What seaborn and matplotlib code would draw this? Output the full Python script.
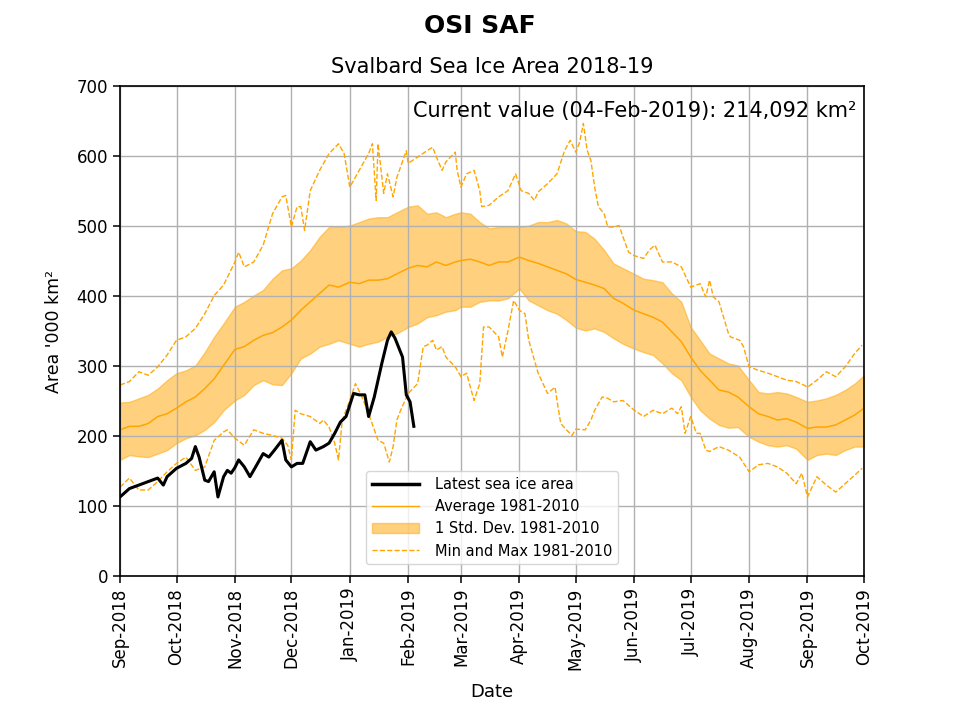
import matplotlib
matplotlib.use("Agg")
import matplotlib.pyplot as plt
import matplotlib.dates as mdates
from matplotlib.lines import Line2D
import pandas as pd
import seaborn as sns

# 1981-2010 climatology, every ~5 days ('000 km2)
clim_dates = [
    "2018-09-01", "2018-09-06", "2018-09-11", "2018-09-16", "2018-09-21", "2018-09-26",
    "2018-10-01", "2018-10-06", "2018-10-11", "2018-10-16", "2018-10-21", "2018-10-26",
    "2018-11-01", "2018-11-06", "2018-11-11", "2018-11-16", "2018-11-21", "2018-11-26",
    "2018-12-01", "2018-12-06", "2018-12-11", "2018-12-16", "2018-12-21", "2018-12-26",
    "2019-01-01", "2019-01-06", "2019-01-11", "2019-01-16", "2019-01-21", "2019-01-26",
    "2019-02-01", "2019-02-06", "2019-02-11", "2019-02-16", "2019-02-21", "2019-02-26",
    "2019-03-01", "2019-03-06", "2019-03-11", "2019-03-16", "2019-03-21", "2019-03-26",
    "2019-04-01", "2019-04-06", "2019-04-11", "2019-04-16", "2019-04-21", "2019-04-26",
    "2019-05-01", "2019-05-06", "2019-05-11", "2019-05-16", "2019-05-21", "2019-05-26",
    "2019-06-01", "2019-06-06", "2019-06-11", "2019-06-16", "2019-06-21", "2019-06-26",
    "2019-07-01", "2019-07-06", "2019-07-11", "2019-07-16", "2019-07-21", "2019-07-26",
    "2019-08-01", "2019-08-06", "2019-08-11", "2019-08-16", "2019-08-21", "2019-08-26",
    "2019-09-01", "2019-09-06", "2019-09-11", "2019-09-16", "2019-09-21", "2019-09-26",
    "2019-10-01",
]
avg_vals = [
    209, 214, 214, 218, 228, 232,
    240, 249, 256, 268, 282, 301,
    324, 328, 337, 344, 348, 356,
    366, 380, 392, 404, 416, 413,
    420, 418, 423, 423, 425, 432,
    440, 444, 442, 449, 444, 449,
    451, 453, 449, 444, 449, 449,
    456, 451, 447, 442, 437, 432,
    424, 420, 416, 411, 397, 390,
    380, 375, 370, 363, 349, 335,
    313, 294, 280, 266, 263, 256,
    242, 232, 228, 223, 225, 220,
    211, 213, 213, 216, 223, 230,
    240,
]
std_hi = [
    248, 249, 254, 259, 268, 280,
    290, 294, 301, 320, 342, 361,
    385, 392, 401, 409, 425, 437,
    440, 451, 466, 485, 499, 499,
    501, 506, 511, 513, 513, 520,
    528, 530, 518, 520, 513, 518,
    520, 518, 506, 497, 499, 499,
    499, 501, 506, 506, 509, 504,
    493, 492, 482, 466, 447, 440,
    432, 425, 423, 420, 404, 392,
    356, 337, 318, 311, 304, 301,
    280, 263, 261, 263, 261, 256,
    249, 251, 254, 259, 266, 275,
    287,
]
std_lo = [
    166, 173, 171, 170, 175, 180,
    190, 197, 201, 209, 220, 237,
    251, 259, 273, 280, 274, 273,
    290, 311, 318, 328, 332, 337,
    332, 328, 332, 335, 342, 347,
    356, 361, 370, 373, 378, 380,
    385, 385, 392, 394, 394, 397,
    411, 394, 387, 380, 375, 366,
    355, 351, 354, 349, 340, 332,
    325, 320, 316, 304, 290, 280,
    256, 237, 225, 216, 212, 213,
    199, 192, 187, 185, 187, 182,
    166, 173, 175, 173, 180, 185,
    185,
]

max_dates = [
    "2018-09-01", "2018-09-06", "2018-09-11", "2018-09-16", "2018-09-21", "2018-09-26",
    "2018-10-01", "2018-10-06", "2018-10-11", "2018-10-16", "2018-10-21", "2018-10-26",
    "2018-11-01", "2018-11-03", "2018-11-06", "2018-11-11", "2018-11-16", "2018-11-21",
    "2018-11-26", "2018-11-28", "2018-12-01", "2018-12-04", "2018-12-06", "2018-12-08",
    "2018-12-11", "2018-12-16", "2018-12-21", "2018-12-26", "2018-12-29", "2019-01-01",
    "2019-01-06", "2019-01-11", "2019-01-13", "2019-01-15", "2019-01-16", "2019-01-19",
    "2019-01-21", "2019-01-24", "2019-01-26", "2019-01-28", "2019-01-31", "2019-02-01",
    "2019-02-06", "2019-02-11", "2019-02-14", "2019-02-16", "2019-02-19", "2019-02-21",
    "2019-02-26", "2019-02-27", "2019-03-01", "2019-03-04", "2019-03-08", "2019-03-11",
    "2019-03-12", "2019-03-16", "2019-03-21", "2019-03-26", "2019-03-30", "2019-04-02",
    "2019-04-06", "2019-04-09", "2019-04-11", "2019-04-16", "2019-04-21", "2019-04-25",
    "2019-04-28", "2019-05-01", "2019-05-03", "2019-05-05", "2019-05-07", "2019-05-09",
    "2019-05-11", "2019-05-13", "2019-05-16", "2019-05-18", "2019-05-21", "2019-05-24",
    "2019-05-26", "2019-05-29", "2019-06-01", "2019-06-06", "2019-06-09", "2019-06-12",
    "2019-06-16", "2019-06-21", "2019-06-26", "2019-07-01", "2019-07-06", "2019-07-09",
    "2019-07-11", "2019-07-13", "2019-07-16", "2019-07-21", "2019-07-22", "2019-07-27",
    "2019-07-29", "2019-08-01", "2019-08-06", "2019-08-11", "2019-08-16", "2019-08-21",
    "2019-08-26", "2019-08-30", "2019-09-01", "2019-09-06", "2019-09-11", "2019-09-16",
    "2019-09-21", "2019-09-26", "2019-09-30",
]
max_vals = [
    273, 278, 292, 287, 299, 316,
    337, 342, 354, 375, 401, 416,
    449, 463, 442, 449, 473, 518,
    542, 544, 499, 528, 528, 494,
    551, 580, 604, 618, 604, 556,
    580, 604, 618, 537, 618, 547,
    575, 542, 570, 585, 608, 590,
    599, 608, 613, 599, 580, 592,
    606, 580, 556, 575, 580, 551,
    528, 530, 542, 551, 575, 551,
    547, 537, 549, 561, 575, 608,
    623, 606, 620, 647, 609, 594,
    556, 528, 518, 499, 499, 501,
    485, 463, 458, 454, 466, 473,
    449, 449, 442, 413, 418, 399,
    423, 399, 392, 347, 342, 337,
    328, 299, 294, 290, 285, 280,
    278, 273, 270, 280, 292, 285,
    299, 318, 330,
]

min_dates = [
    "2018-09-01", "2018-09-06", "2018-09-11", "2018-09-16", "2018-09-21", "2018-09-26",
    "2018-10-01", "2018-10-06", "2018-10-11", "2018-10-16", "2018-10-21", "2018-10-26",
    "2018-10-28", "2018-11-01", "2018-11-06", "2018-11-11", "2018-11-16", "2018-11-21",
    "2018-11-26", "2018-11-29", "2018-12-01", "2018-12-03", "2018-12-06", "2018-12-11",
    "2018-12-16", "2018-12-18", "2018-12-21", "2018-12-24", "2018-12-26", "2018-12-28",
    "2019-01-01", "2019-01-04", "2019-01-07", "2019-01-11", "2019-01-16", "2019-01-19",
    "2019-01-22", "2019-01-24", "2019-01-26", "2019-01-28", "2019-02-01", "2019-02-06",
    "2019-02-09", "2019-02-11", "2019-02-14", "2019-02-16", "2019-02-19", "2019-02-21",
    "2019-02-26", "2019-03-01", "2019-03-04", "2019-03-06", "2019-03-08", "2019-03-11",
    "2019-03-13", "2019-03-16", "2019-03-21", "2019-03-23", "2019-03-26", "2019-03-29",
    "2019-04-01", "2019-04-04", "2019-04-06", "2019-04-11", "2019-04-16", "2019-04-20",
    "2019-04-21", "2019-04-23", "2019-04-26", "2019-04-29", "2019-05-01", "2019-05-06",
    "2019-05-09", "2019-05-11", "2019-05-15", "2019-05-18", "2019-05-21", "2019-05-26",
    "2019-05-29", "2019-06-01", "2019-06-06", "2019-06-11", "2019-06-16", "2019-06-21",
    "2019-06-24", "2019-06-26", "2019-06-28", "2019-07-01", "2019-07-04", "2019-07-06",
    "2019-07-09", "2019-07-11", "2019-07-16", "2019-07-21", "2019-07-27", "2019-08-01",
    "2019-08-06", "2019-08-11", "2019-08-16", "2019-08-21", "2019-08-26", "2019-08-29",
    "2019-09-01", "2019-09-06", "2019-09-11", "2019-09-16", "2019-09-21", "2019-09-26",
    "2019-09-30",
]
min_vals = [
    127, 140, 123, 123, 135, 149,
    161, 170, 151, 156, 194, 206,
    209, 197, 187, 209, 204, 201,
    197, 187, 166, 237, 232, 228,
    218, 223, 213, 190, 166, 223,
    251, 275, 259, 232, 194, 190,
    163, 185, 223, 237, 261, 275,
    328, 330, 337, 323, 328, 313,
    299, 285, 290, 270, 251, 275,
    356, 356, 342, 313, 351, 394,
    380, 375, 337, 290, 261, 270,
    251, 218, 209, 201, 210, 209,
    223, 237, 256, 254, 249, 251,
    244, 237, 228, 237, 232, 240,
    232, 242, 204, 228, 204, 204,
    180, 178, 185, 180, 170, 149,
    159, 161, 156, 147, 132, 147,
    113, 142, 130, 120, 132, 144,
    154,
]

# latest season up to 04-Feb-2019
latest_dates = [
    "2018-09-01", "2018-09-06", "2018-09-11", "2018-09-16", "2018-09-21", "2018-09-24",
    "2018-09-26", "2018-10-01", "2018-10-06", "2018-10-09", "2018-10-11", "2018-10-13",
    "2018-10-16", "2018-10-18", "2018-10-21", "2018-10-23", "2018-10-26", "2018-10-28",
    "2018-10-30", "2018-11-01", "2018-11-03", "2018-11-06", "2018-11-09", "2018-11-12",
    "2018-11-16", "2018-11-19", "2018-11-22", "2018-11-26", "2018-11-28", "2018-12-01",
    "2018-12-04", "2018-12-07", "2018-12-11", "2018-12-14", "2018-12-18", "2018-12-21",
    "2018-12-24", "2018-12-27", "2018-12-30", "2019-01-03", "2019-01-06", "2019-01-09",
    "2019-01-11", "2019-01-14", "2019-01-18", "2019-01-21", "2019-01-23", "2019-01-25",
    "2019-01-29", "2019-01-31", "2019-02-02", "2019-02-04",
]
latest_vals = [
    113, 125, 130, 135, 140, 130,
    142, 154, 161, 168, 185, 170,
    137, 135, 149, 113, 142, 151,
    147, 155, 166, 156, 142, 156,
    175, 170, 180, 194, 166, 156,
    161, 161, 192, 180, 185, 190,
    204, 220, 228, 261, 259, 259,
    228, 256, 304, 337, 349, 340,
    313, 259, 249, 214,
]

current_label = "Current value (04-Feb-2019): 214,092 km\u00b2"

clim = pd.DataFrame({"date": pd.to_datetime(clim_dates), "avg": avg_vals,
                     "lo": std_lo, "hi": std_hi})
mx = pd.DataFrame({"date": pd.to_datetime(max_dates), "area": max_vals})
mn = pd.DataFrame({"date": pd.to_datetime(min_dates), "area": min_vals})
latest = pd.DataFrame({"date": pd.to_datetime(latest_dates), "area": latest_vals})

fig, ax = plt.subplots(figsize=(9.6, 7.2), dpi=100)
fig.subplots_adjust(left=0.125, right=0.9, top=0.88, bottom=0.2)

band = ax.fill_between(clim["date"], clim["lo"], clim["hi"], color="orange", alpha=0.5,
                       label="1 Std. Dev. 1981-2010")
sns.lineplot(data=clim, x="date", y="avg", color="orange", linewidth=1.1, ax=ax)
sns.lineplot(data=mx, x="date", y="area", color="orange", linewidth=1, linestyle="--", ax=ax)
sns.lineplot(data=mn, x="date", y="area", color="orange", linewidth=1, linestyle="--", ax=ax)
sns.lineplot(data=latest, x="date", y="area", color="black", linewidth=2.2, ax=ax, zorder=5)

ax.set_xlim(pd.Timestamp("2018-09-01"), pd.Timestamp("2019-10-01"))
ax.set_ylim(0, 700)
ax.set_yticks(range(0, 701, 100))
ax.xaxis.set_major_locator(mdates.MonthLocator())
ax.xaxis.set_major_formatter(mdates.DateFormatter("%b-%Y"))
plt.setp(ax.get_xticklabels(), rotation=90)
ax.tick_params(labelsize=12, length=5, width=1.1)
ax.grid(True, color="#b0b0b0", linewidth=1)
for sp in ax.spines.values():
    sp.set_linewidth(1.2)

ax.set_xlabel("Date", fontsize=13, labelpad=9)
ax.set_ylabel("Area '000 km\u00b2", fontsize=12.5, labelpad=10)
ax.set_title("Svalbard Sea Ice Area 2018-19", fontsize=15, pad=10)
fig.suptitle("OSI SAF", fontsize=18, fontweight="bold")
ax.text(0.99, 0.95, current_label, transform=ax.transAxes, ha="right", va="center", fontsize=15)

handles = [
    Line2D([], [], color="black", linewidth=2.5),
    Line2D([], [], color="orange", linewidth=1),
    band,
    Line2D([], [], color="orange", linewidth=1, linestyle="--"),
]
labels = ["Latest sea ice area", "Average 1981-2010", "1 Std. Dev. 1981-2010", "Min and Max 1981-2010"]
ax.legend(handles, labels, loc="lower center", fontsize=10.5, handlelength=3.2,
          handletextpad=1.1, borderaxespad=0.8)

fig.savefig("out.png", dpi=100)
